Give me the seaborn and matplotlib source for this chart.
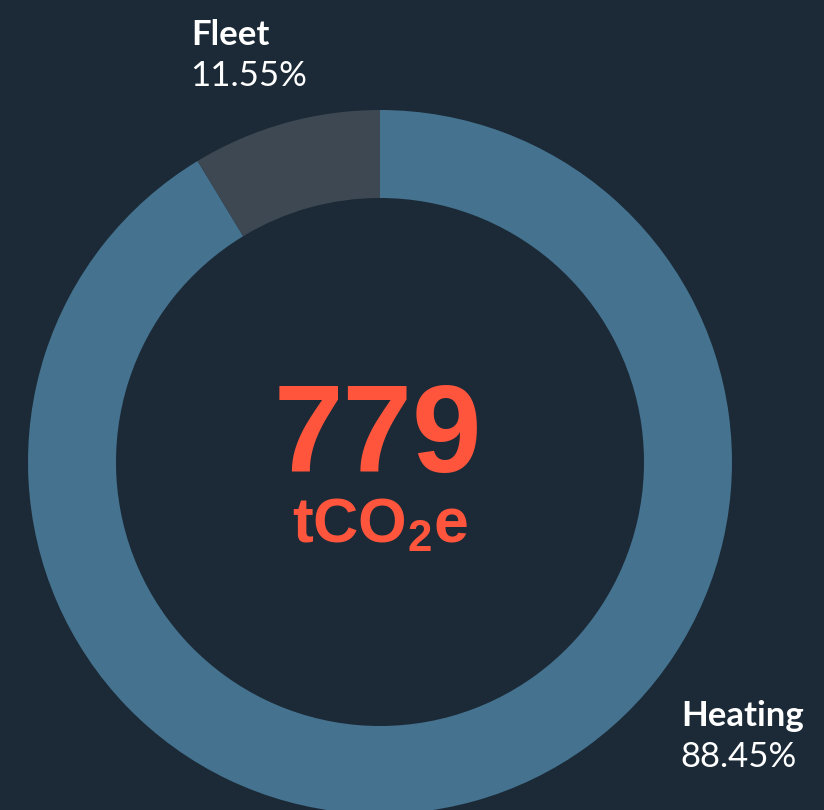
import seaborn as sns
import matplotlib.pyplot as plt

# data
categories = ["Heating", "Fleet"]
share_labels = ["88.45%", "11.55%"]
arc_share = [91.33, 8.67]      # angular size of each ring segment as drawn
total_value = "779"
unit = r"$\mathbf{tCO_2e}$"

bg = "#1b2a36"
colors = ["#44728f", "#3d4852"]
accent = "#ff553d"

sns.set_theme(style="white", rc={"figure.facecolor": bg, "axes.facecolor": bg})
plt.rcParams["mathtext.fontset"] = "custom"
plt.rcParams["mathtext.bf"] = "Liberation Sans:bold"
plt.rcParams["mathtext.rm"] = "Liberation Sans"

fig = plt.figure(figsize=(8.24, 8.10), dpi=100)
ax = fig.add_axes([0, 0, 1, 1])
ax.set_facecolor(bg)

# ring, in pixel-like coords (y measured up from bottom)
ax.pie(arc_share, colors=colors, startangle=90, counterclock=False,
       center=(380, 810 - 462), radius=352,
       wedgeprops=dict(width=88, linewidth=0), frame=True)
ax.set_xlim(0, 824)
ax.set_ylim(0, 810)
ax.set_aspect("equal")
ax.axis("off")

lab_font = ["Lato", "DejaVu Sans"]
# Fleet label, top left
ax.text(191, 810 - 45, categories[1], color="white", fontsize=25, fontweight="bold",
        family=lab_font, ha="left", va="baseline")
ax.text(190, 810 - 86, share_labels[1], color="white", fontsize=25,
        family=lab_font, ha="left", va="baseline")
# Heating label, bottom right
ax.text(681, 810 - 726, categories[0], color="white", fontsize=25, fontweight="bold",
        family=lab_font, ha="left", va="baseline")
ax.text(680, 810 - 767, share_labels[0], color="white", fontsize=25,
        family=lab_font, ha="left", va="baseline")

# centre total
ax.text(378, 810 - 472, total_value, color=accent, fontsize=90, fontweight="bold",
        family="Liberation Sans", ha="center", va="baseline")
ax.text(380, 810 - 542, unit, color=accent, fontsize=45,
        ha="center", va="baseline")

fig.savefig("out.png", dpi=100, facecolor=bg)
